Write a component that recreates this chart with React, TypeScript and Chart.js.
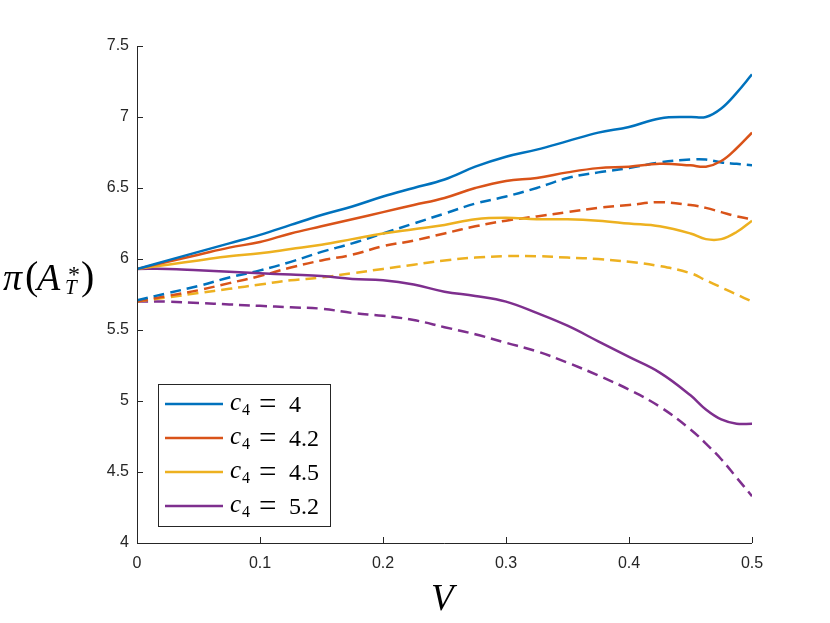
import React, { useEffect, useRef } from "react";
import { Chart, registerables } from "chart.js";

Chart.register(...registerables);

// V grid (finer near the right end where curves bend sharply)
const vValues = [
  0, 0.025, 0.05, 0.075, 0.1, 0.125, 0.15, 0.175, 0.2, 0.225, 0.25, 0.275, 0.3,
  0.325, 0.35, 0.375, 0.4, 0.425, 0.45, 0.4625, 0.475, 0.4875, 0.5,
];

// solid curves
const c4_40_solid = [
  5.93, 5.99, 6.05, 6.11, 6.17, 6.24, 6.31, 6.37, 6.44, 6.5, 6.56, 6.65, 6.72,
  6.77, 6.83, 6.89, 6.93, 6.99, 7.0, 7.0, 7.06, 7.17, 7.3,
];
const c4_42_solid = [
  5.93, 5.98, 6.03, 6.08, 6.12, 6.18, 6.23, 6.28, 6.33, 6.38, 6.43, 6.5, 6.55,
  6.57, 6.61, 6.64, 6.65, 6.67, 6.66, 6.65, 6.69, 6.78, 6.89,
];
const c4_45_solid = [
  5.93, 5.96, 5.99, 6.02, 6.04, 6.07, 6.1, 6.14, 6.18, 6.21, 6.24, 6.28, 6.29,
  6.28, 6.28, 6.27, 6.25, 6.23, 6.18, 6.14, 6.14, 6.19, 6.27,
];
const c4_52_solid = [
  5.93, 5.93, 5.92, 5.91, 5.9, 5.89, 5.88, 5.86, 5.85, 5.82, 5.77, 5.74, 5.7,
  5.62, 5.53, 5.42, 5.31, 5.2, 5.04, 4.94, 4.87, 4.84, 4.84,
];

// dashed curves
const c4_40_dash = [
  5.71, 5.76, 5.81, 5.87, 5.92, 5.98, 6.05, 6.11, 6.18, 6.25, 6.32, 6.39, 6.44,
  6.5, 6.57, 6.61, 6.64, 6.68, 6.7, 6.7, 6.68, 6.67, 6.66,
];
const c4_42_dash = [
  5.7, 5.74, 5.78, 5.83, 5.88, 5.94, 5.99, 6.03, 6.09, 6.13, 6.18, 6.23, 6.27,
  6.3, 6.33, 6.36, 6.38, 6.4, 6.38, 6.36, 6.33, 6.3, 6.28,
];
const c4_45_dash = [
  5.7, 5.73, 5.76, 5.79, 5.82, 5.85, 5.87, 5.9, 5.93, 5.96, 5.99, 6.01, 6.02,
  6.02, 6.01, 6.0, 5.98, 5.95, 5.9, 5.85, 5.8, 5.75, 5.7,
];
const c4_52_dash = [
  5.7, 5.7, 5.69, 5.68, 5.67, 5.66, 5.65, 5.62, 5.6, 5.57, 5.52, 5.47, 5.41,
  5.35, 5.27, 5.18, 5.08, 4.96, 4.8, 4.7, 4.59, 4.46, 4.33,
];

const legendValues = ["4", "4.2", "4.5", "5.2"];
const colors = ["#0072BD", "#D95319", "#EDB120", "#7E2F8E"];

const solidSeries = [c4_40_solid, c4_42_solid, c4_45_solid, c4_52_solid];
const dashSeries = [c4_40_dash, c4_42_dash, c4_45_dash, c4_52_dash];

const xTicks = [0, 0.1, 0.2, 0.3, 0.4, 0.5];
const yTicks = [4, 4.5, 5, 5.5, 6, 6.5, 7, 7.5];

const AXIS = "#262626";
const SERIF = '"Liberation Serif", "DejaVu Serif", serif';
const SANS = '"Liberation Sans", Arial, sans-serif';

const toPoints = (ys: number[]) => ys.map((y, i) => ({ x: vValues[i], y }));

// inward ticks, axis lines, axis labels and the legend box
const decorations = {
  id: "decorations",
  afterDraw(chart: any) {
    const { ctx, chartArea: a } = chart;
    const xs = chart.scales.x;
    const ys = chart.scales.y;
    ctx.save();
    ctx.strokeStyle = AXIS;
    ctx.lineWidth = 1;
    ctx.beginPath();
    ctx.moveTo(a.left + 0.5, a.top);
    ctx.lineTo(a.left + 0.5, a.bottom + 0.5);
    ctx.lineTo(a.right, a.bottom + 0.5);
    yTicks.forEach((t) => {
      const p = Math.round(ys.getPixelForValue(t)) + 0.5;
      ctx.moveTo(a.left, p);
      ctx.lineTo(a.left + 6, p);
    });
    xTicks.forEach((t) => {
      const p = Math.round(xs.getPixelForValue(t)) + 0.5;
      ctx.moveTo(p, a.bottom);
      ctx.lineTo(p, a.bottom - 6);
    });
    ctx.stroke();

    // axis labels
    ctx.fillStyle = "#000";
    ctx.textBaseline = "alphabetic";
    ctx.textAlign = "left";
    ctx.font = `italic 37px ${SERIF}`;
    ctx.fillText("V", 431, 610);

    ctx.font = `italic 38px ${SERIF}`;
    ctx.fillText("π", 3, 290);
    ctx.font = `40px ${SERIF}`;
    ctx.fillText("(", 25, 289);
    ctx.font = `italic 38px ${SERIF}`;
    ctx.fillText("A", 37, 290);
    ctx.font = `24px ${SERIF}`;
    ctx.fillText("*", 68, 282);
    ctx.font = `italic 21px ${SERIF}`;
    ctx.fillText("T", 65, 294);
    ctx.font = `40px ${SERIF}`;
    ctx.fillText(")", 81, 289);

    // legend
    const bx = 158;
    const by = 384;
    const bw = 172;
    const bh = 142;
    ctx.fillStyle = "#fff";
    ctx.fillRect(bx, by, bw, bh);
    ctx.strokeStyle = AXIS;
    ctx.lineWidth = 1;
    ctx.strokeRect(bx + 0.5, by + 0.5, bw, bh);
    legendValues.forEach((v, i) => {
      const ry = 404 + i * 34;
      ctx.strokeStyle = colors[i];
      ctx.lineWidth = 2.5;
      ctx.beginPath();
      ctx.moveTo(165, ry);
      ctx.lineTo(223, ry);
      ctx.stroke();
      ctx.fillStyle = "#000";
      ctx.font = `italic 25px ${SERIF}`;
      ctx.fillText("c", 230, ry + 6);
      ctx.font = `16px ${SERIF}`;
      ctx.fillText("4", 242, ry + 11);
      ctx.font = `31px ${SERIF}`;
      ctx.fillText("=", 259, ry + 10);
      ctx.font = `24px ${SERIF}`;
      ctx.fillText(v, 289, ry + 8);
    });
    ctx.restore();
  },
};

export default function App() {
  const canvasRef = useRef<HTMLCanvasElement | null>(null);

  useEffect(() => {
    if (!canvasRef.current) return;
    const datasets: any[] = [];
    solidSeries.forEach((s, i) => {
      datasets.push({
        label: `c4 = ${legendValues[i]}`,
        data: toPoints(s),
        borderColor: colors[i],
        borderWidth: 2.5,
        pointRadius: 0,
        tension: 0.4,
        fill: false,
      });
    });
    dashSeries.forEach((s, i) => {
      datasets.push({
        label: `c4 = ${legendValues[i]} (dashed)`,
        data: toPoints(s),
        borderColor: colors[i],
        borderWidth: 2.5,
        borderDash: [11, 6],
        pointRadius: 0,
        tension: 0.4,
        fill: false,
      });
    });

    const chart = new Chart(canvasRef.current, {
      type: "line",
      data: { datasets },
      options: {
        responsive: false,
        animation: false,
        layout: { padding: { top: 46, right: 78, left: 0, bottom: 0 } },
        plugins: { legend: { display: false }, tooltip: { enabled: false } },
        scales: {
          x: {
            type: "linear",
            min: 0,
            max: 0.5,
            afterFit: (s: any) => {
              s.height = 80;
            },
            afterBuildTicks: (s: any) => {
              s.ticks = xTicks.map((v) => ({ value: v }));
            },
            grid: { display: false, drawTicks: false },
            border: { display: false },
            ticks: {
              padding: 11,
              color: AXIS,
              font: { family: SANS, size: 16 },
              maxRotation: 0,
              callback: (v: any) => String(Math.round(Number(v) * 10) / 10),
            },
          },
          y: {
            type: "linear",
            min: 4,
            max: 7.5,
            afterFit: (s: any) => {
              s.width = 137;
            },
            afterBuildTicks: (s: any) => {
              s.ticks = yTicks.map((v) => ({ value: v }));
            },
            grid: { display: false, drawTicks: false },
            border: { display: false },
            ticks: {
              padding: 8,
              color: AXIS,
              font: { family: SANS, size: 16 },
              callback: (v: any) => String(Number(v)),
            },
          },
        },
      },
      plugins: [decorations],
    });
    return () => chart.destroy();
  }, []);

  return (
    <div style={{ position: "absolute", left: 0, top: 0, width: 830, height: 623, background: "#fff" }}>
      <canvas ref={canvasRef} width={830} height={623} style={{ width: 830, height: 623 }} />
    </div>
  );
}
